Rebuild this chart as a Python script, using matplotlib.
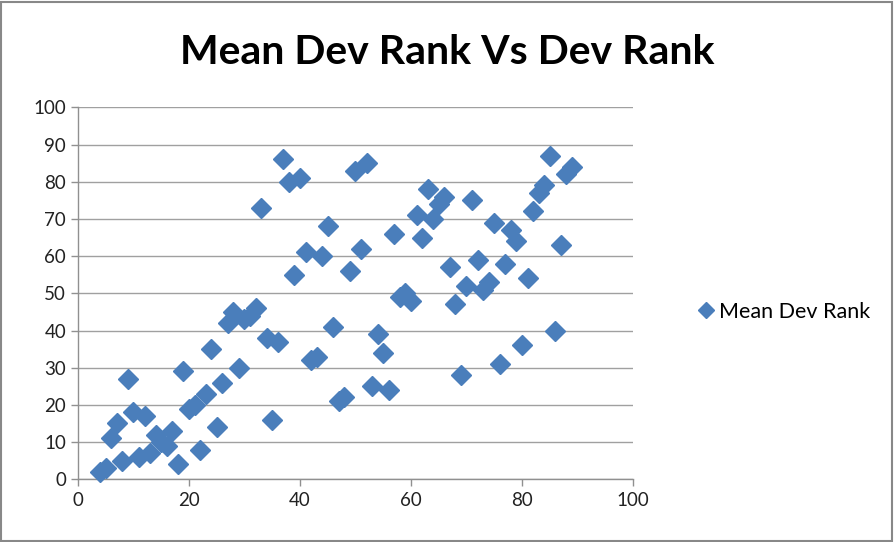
import matplotlib
matplotlib.use("Agg")
import matplotlib.pyplot as plt
from matplotlib.lines import Line2D
from matplotlib.patches import Rectangle

dev_rank = [4, 5, 6, 7, 8, 9, 10, 11, 12, 13, 14, 15, 16, 17, 18, 19, 20, 21, 22, 23,
            24, 25, 26, 27, 28, 29, 30, 31, 32, 33, 34, 35, 36, 37, 38, 39, 40, 41, 42, 43,
            44, 45, 46, 47, 48, 49, 50, 51, 52, 53, 54, 55, 56, 57, 58, 59, 60, 61, 62, 63,
            64, 65, 66, 67, 68, 69, 70, 71, 72, 73, 74, 75, 76, 77, 78, 79, 80, 81, 82, 83,
            84, 85, 86, 87, 88, 89]
mean_dev_rank = [2, 3, 11, 15, 5, 27, 18, 6, 17, 7, 12, 10, 9, 13, 4, 29, 19, 20, 8, 23,
                 35, 14, 26, 42, 45, 30, 43, 44, 46, 73, 38, 16, 37, 86, 80, 55, 81, 61, 32, 33,
                 60, 68, 41, 21, 22, 56, 83, 62, 85, 25, 39, 34, 24, 66, 49, 50, 48, 71, 65, 78,
                 70, 74, 76, 57, 47, 28, 52, 75, 59, 51, 53, 69, 31, 58, 67, 64, 36, 54, 72, 77,
                 79, 87, 40, 63, 82, 84]
x_ticks = [0, 20, 40, 60, 80, 100]
y_ticks = [0, 10, 20, 30, 40, 50, 60, 70, 80, 90, 100]
title = "Mean Dev Rank Vs Dev Rank"
series_name = "Mean Dev Rank"

plt.rcParams['font.family'] = ['Lato', 'DejaVu Sans']

fig = plt.figure(figsize=(8.94, 5.42), dpi=100)
ax = fig.add_axes([0.0872, 0.1157, 0.6208, 0.6863])

color = '#4A7EBB'
ax.plot(dev_rank, mean_dev_rank, linestyle='none', marker='D', markersize=10,
        color=color, markeredgecolor=color, zorder=3, clip_on=False)

ax.set_xlim(0, 100)
ax.set_ylim(0, 100)
ax.set_xticks(x_ticks)
ax.set_yticks(y_ticks)
ax.grid(axis='y', color='#A0A0A0', linewidth=1.0)
ax.set_axisbelow(True)
for s in ['top', 'right']:
    ax.spines[s].set_visible(False)
for s in ['left', 'bottom']:
    ax.spines[s].set_color('#909090')
    ax.spines[s].set_linewidth(1.0)
ax.tick_params(axis='both', colors='#909090', labelcolor='#222222', labelsize=13.5,
               length=5, width=1.0, direction='out')
ax.tick_params(axis='x', pad=4)

fig.text(0.5, 0.903, title, ha='center', va='center', fontsize=29.5,
         fontweight='bold', color='black')

handle = Line2D([], [], linestyle='none', marker='D', markersize=8, color=color)
fig.legend([handle], [series_name], loc='center left', bbox_to_anchor=(0.757, 0.425),
           frameon=False, fontsize=15.5, handletextpad=0.15, handlelength=0.9)

fig.patches.append(Rectangle((0.001, 0.002), 0.997, 0.995, transform=fig.transFigure,
                             fill=False, edgecolor='#888888', linewidth=1.5))

fig.savefig('out.png', dpi=100, facecolor='white')
